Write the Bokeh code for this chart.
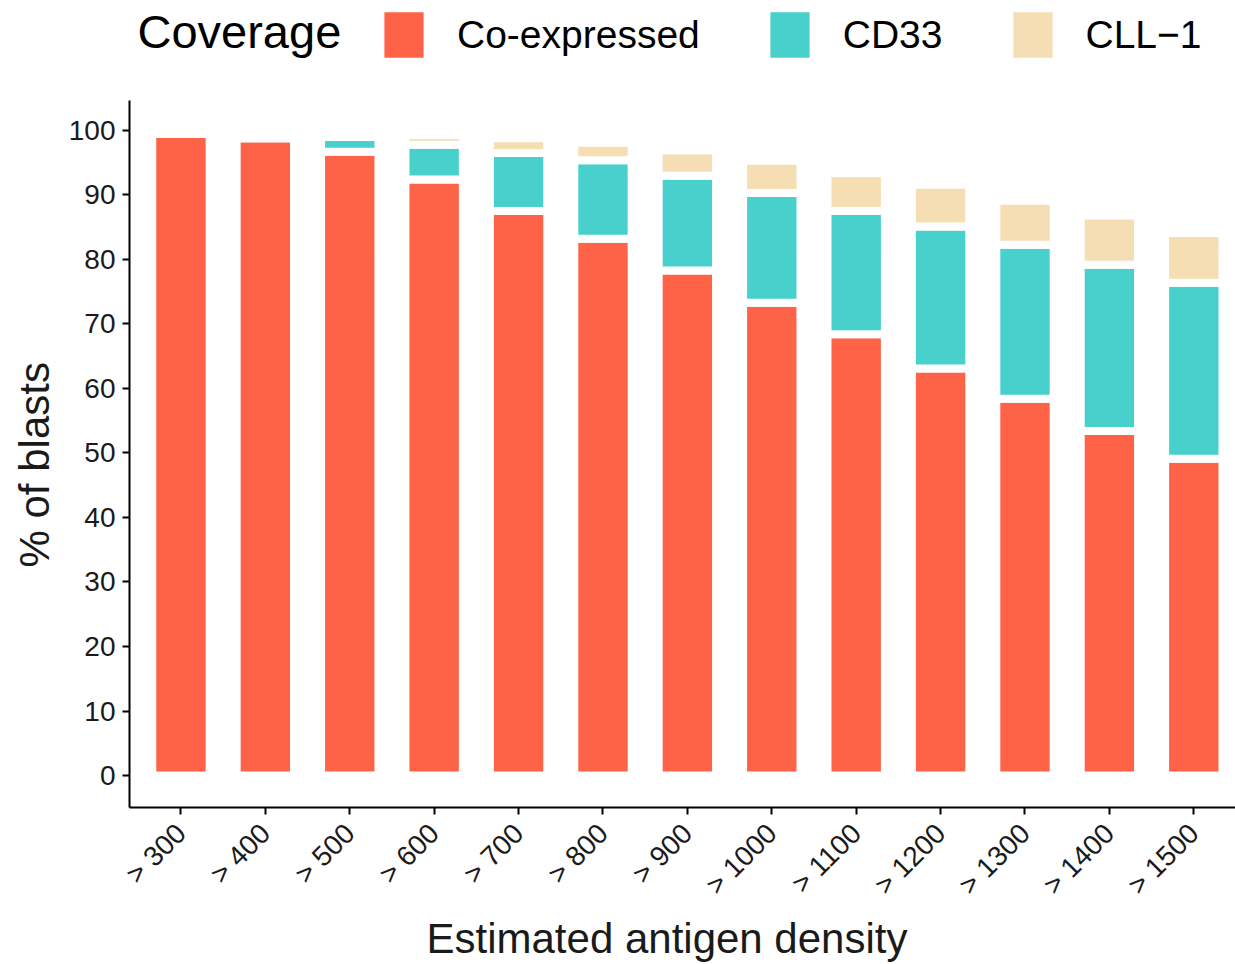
import math
from bokeh.plotting import figure
from bokeh.models import (ColumnDataSource, Range1d, FixedTicker, Legend,
                          LegendItem, Label, Title)
from bokeh.embed import file_html
from bokeh.resources import INLINE

# ---- data ----
categories = ["> 300", "> 400", "> 500", "> 600", "> 700", "> 800", "> 900",
              "> 1000", "> 1100", "> 1200", "> 1300", "> 1400", "> 1500"]
co_expressed = [99.5, 98.8, 96.7, 92.4, 87.5, 83.2, 78.3, 73.3, 68.4, 63.1, 58.4, 53.4, 49.1]
cd33 = [0.0, 0.0, 2.3, 5.4, 9.0, 12.2, 14.7, 17.0, 19.1, 22.0, 23.9, 25.8, 27.3]
cll1 = [0.0, 0.0, 0.0, 1.5, 2.3, 2.7, 3.9, 5.0, 5.9, 6.5, 6.8, 7.6, 7.7]
series_names = ["Co-expressed", "CD33", "CLL\u22121"]
colors = ["#FF6347", "#48D1CC", "#F5DEB3"]
y_ticks = [0, 10, 20, 30, 40, 50, 60, 70, 80, 90, 100]
y_axis_span = (-4.96, 104.65)

FONT = "Liberation Sans"
TXT = "#1a1a1a"

xpos = list(range(len(categories)))
src = ColumnDataSource(dict(x=xpos, co=co_expressed, cd33=cd33, cll=cll1))

# the plotting frame reaches the top of the canvas so that the legend row
# (drawn inside the frame) is not clipped; the y axis itself is bounded.
p = figure(width=1235, height=964, output_backend="svg", toolbar_location=None,
           x_range=Range1d(-0.6096, 12.494), y_range=Range1d(-4.96, 120.15),
           min_border_left=128, min_border_right=0, min_border_top=0,
           min_border_bottom=157)

rs = p.vbar_stack(["co", "cd33", "cll"], x="x", width=0.68, color=colors,
                  line_color="white", line_width=8, source=src)

p.xgrid.visible = False
p.ygrid.visible = False
p.outline_line_color = None

for ax in (p.xaxis[0], p.yaxis[0]):
    ax.axis_line_width = 2
    ax.axis_line_color = "black"
    ax.major_tick_line_width = 2
    ax.major_tick_line_color = "black"
    ax.major_tick_in = 0
    ax.major_tick_out = 7
    ax.minor_tick_line_color = None
    ax.major_label_text_font = FONT
    ax.major_label_text_font_size = "28px"
    ax.major_label_text_color = TXT

p.xaxis.ticker = FixedTicker(ticks=xpos)
p.xaxis.major_label_overrides = {i: c for i, c in enumerate(categories)}
p.xaxis.major_label_orientation = math.pi / 4
p.xaxis.major_label_standoff = 14

p.yaxis.ticker = FixedTicker(ticks=y_ticks)
p.yaxis.bounds = y_axis_span
p.yaxis.major_label_standoff = 7

# axis titles as side-panel titles (precise placement)
ytitle = Title(text="% of blasts", align="left", offset=240, standoff=16,
               vertical_align="bottom", text_font=FONT, text_font_size="42px",
               text_font_style="normal", text_color=TXT)
p.add_layout(ytitle, "left")
xtitle = Title(text="Estimated antigen density", align="left", offset=297,
               standoff=0, vertical_align="top", text_font=FONT,
               text_font_size="42px", text_font_style="normal", text_color=TXT)
p.add_layout(xtitle, "below")

# legend row (legend glyph rect is drawn at 80% of the glyph box)
items = [LegendItem(label=n, renderers=[r]) for n, r in zip(series_names, rs)]
legend = Legend(items=items, orientation="horizontal", location=(245, 739),
                glyph_width=59, glyph_height=67, label_standoff=24, spacing=60,
                padding=0, margin=0, border_line_color=None,
                background_fill_alpha=0,
                label_text_font=FONT, label_text_font_size="39px",
                label_text_color="black")
p.add_layout(legend)

title = Label(x=8, y=776, x_units="screen", y_units="screen", text="Coverage",
              text_font=FONT, text_font_size="47px", text_baseline="middle",
              text_color="black")
p.add_layout(title)

open("out.html", "w").write(file_html(p, INLINE))
